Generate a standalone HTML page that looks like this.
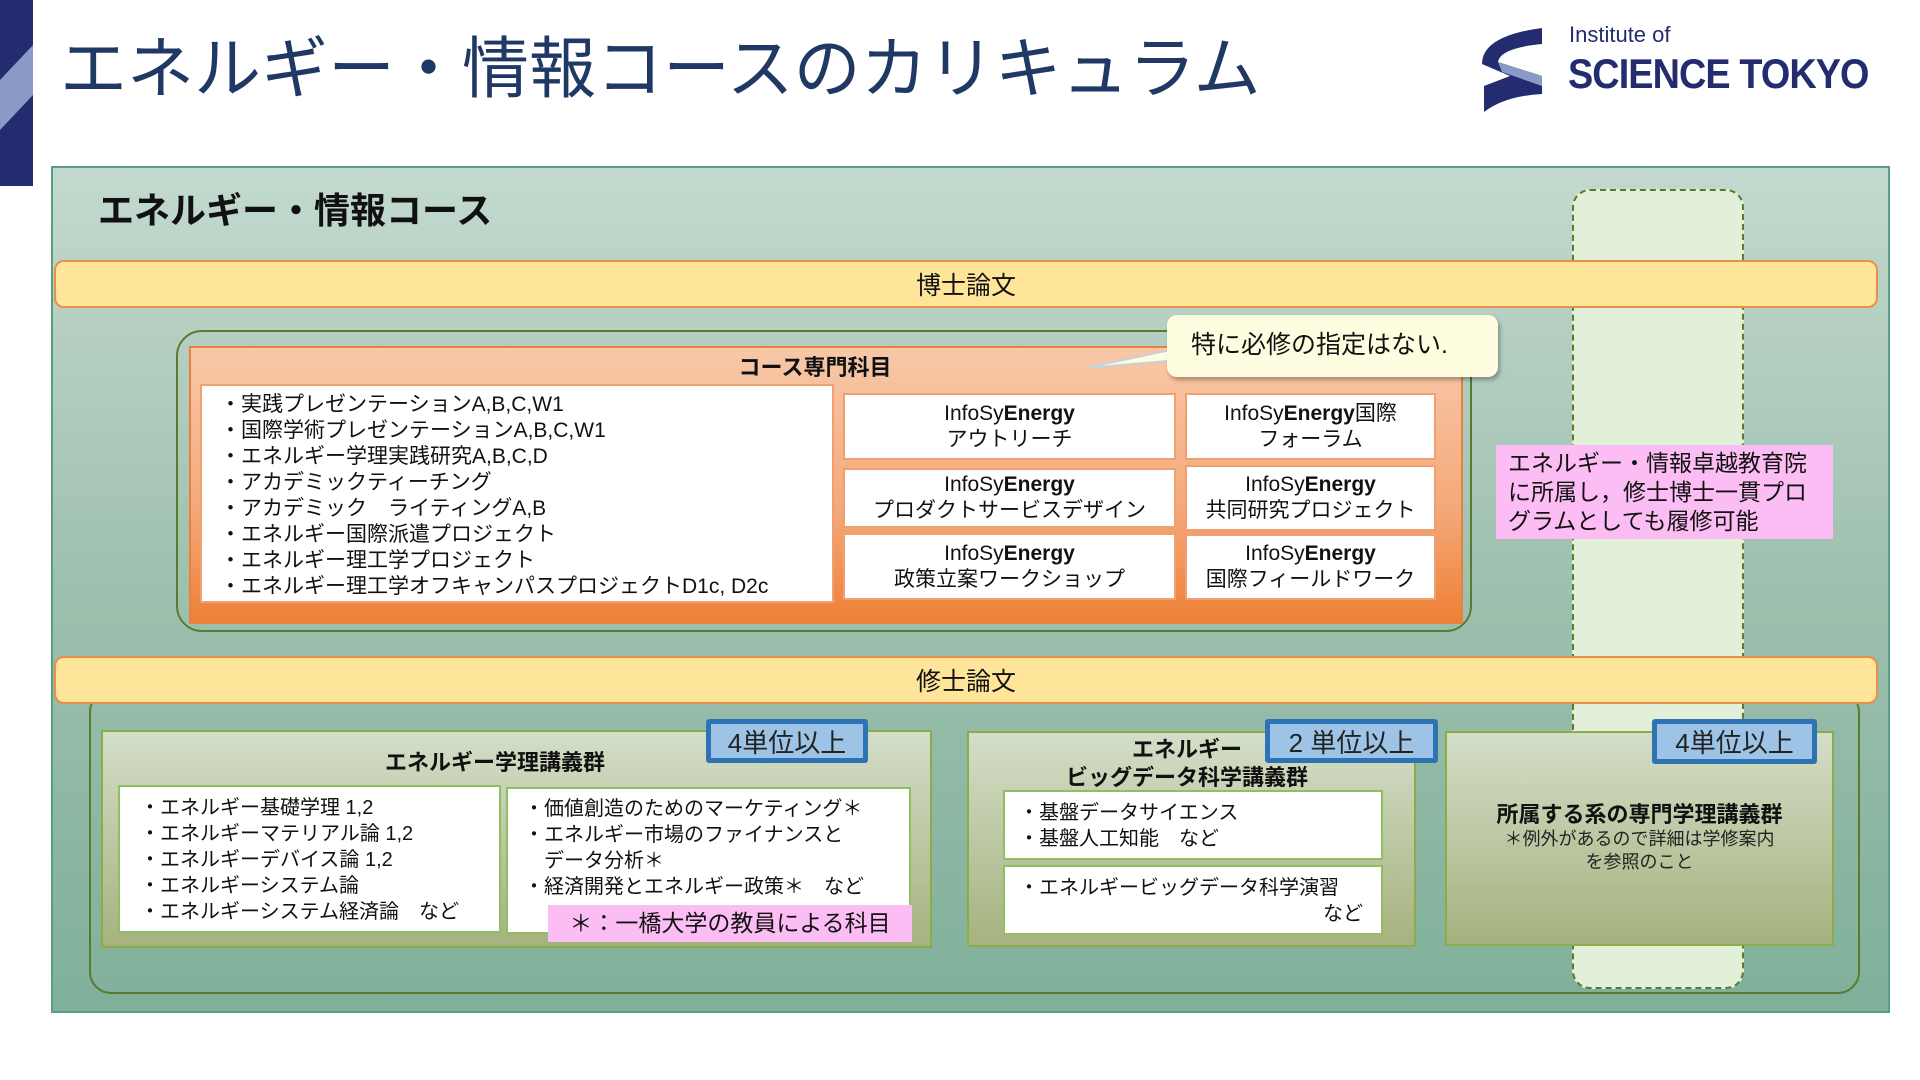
<!DOCTYPE html>
<html><head><meta charset="utf-8"><style>
*{margin:0;padding:0;box-sizing:border-box}
body{width:1920px;height:1080px;background:#fff;position:relative;overflow:hidden;font-family:"Liberation Sans","Noto Sans CJK JP",sans-serif;color:#111}
.a{position:absolute}
.c{display:flex;flex-direction:column;align-items:center;justify-content:center;text-align:center}
.bar{background:#fee59a;border:2px solid #e8904a;border-radius:10px;font-size:25px;display:flex;align-items:center;justify-content:center}
.wb{background:#fff;border:2px solid #f0a070;font-size:21px;line-height:26px}
.grp{background:linear-gradient(#d3dec8,#a6b27e);border:2px solid #8aad4a}
.gw{background:#fff;border:2px solid #8fbf60;font-size:20px;line-height:26px}
.badge{background:#9dc3e6;border:5px solid #2e74b5;border-radius:3px;font-size:26px;display:flex;align-items:center;justify-content:center;color:#222}
b{font-weight:bold}
</style></head><body>
<svg class="a" style="left:0;top:0" width="33" height="186"><rect width="33" height="186" fill="#222c6e"/><polygon points="0,80 33,45 33,95 0,130" fill="#8a9ac6"/></svg>
<div class="a" style="left:60px;top:30px;font-size:67px;color:#1f3864;line-height:80px;white-space:nowrap">エネルギー・情報コースのカリキュラム</div>
<svg class="a" style="left:1480px;top:26px" width="70" height="88"><path d="M62,2 L62,18 Q20,22 18,36 L62,50 L62,68 Q25,70 4,86 L4,60 Q30,50 30,50 L2,38 Q2,10 62,2Z" fill="#222c6e"/><path d="M18,36 L62,50 L62,60 L22,46Z" fill="#8a9ac6"/></svg>
<div class="a" style="left:1569px;top:22px;font-size:22px;color:#222c6e">Institute of</div>
<div class="a" style="left:1568px;top:50px;font-size:42px;font-weight:bold;color:#222c6e;letter-spacing:-1px;white-space:nowrap;transform:scaleX(0.9);transform-origin:left">SCIENCE TOKYO</div>
<div class="a" style="left:51px;top:166px;width:1839px;height:847px;background:linear-gradient(#c3d9cf,#9ec0ae 50%,#7fb09a);border:2px solid #5a9e80"></div>
<div class="a" style="left:1572px;top:189px;width:172px;height:800px;background:#e2efd9;border:2px dashed #5a7a30;border-radius:18px"></div>
<div class="a" style="left:98px;top:182px;font-size:36px;font-weight:bold;white-space:nowrap">エネルギー・情報コース</div>
<div class="a bar" style="left:54px;top:260px;width:1824px;height:48px">博士論文</div>
<div class="a" style="left:176px;top:330px;width:1296px;height:302px;border:2px solid #5a7a30;border-radius:26px"></div>
<div class="a" style="left:189px;top:346px;width:1274px;height:278px;background:linear-gradient(#f8c8a8,#f4a878 60%,#ee8036);border:2px solid #e88040"></div>
<div class="a" style="left:700px;top:350px;width:230px;text-align:center;font-size:22px;font-weight:bold">コース専門科目</div>
<div class="a wb" style="left:200px;top:384px;width:634px;height:219px;padding:6px 0 0 18px">・実践プレゼンテーションA,B,C,W1<br>・国際学術プレゼンテーションA,B,C,W1<br>・エネルギー学理実践研究A,B,C,D<br>・アカデミックティーチング<br>・アカデミック　ライティングA,B<br>・エネルギー国際派遣プロジェクト<br>・エネルギー理工学プロジェクト<br>・エネルギー理工学オフキャンパスプロジェクトD1c, D2c</div>
<div class="a wb c" style="left:843px;top:393px;width:333px;height:67px"><span>InfoSy<b>Energy</b></span><span>アウトリーチ</span></div>
<div class="a wb c" style="left:843px;top:468px;width:333px;height:60px"><span>InfoSy<b>Energy</b></span><span>プロダクトサービスデザイン</span></div>
<div class="a wb c" style="left:843px;top:533px;width:333px;height:67px"><span>InfoSy<b>Energy</b></span><span>政策立案ワークショップ</span></div>
<div class="a wb c" style="left:1185px;top:393px;width:251px;height:67px"><span>InfoSy<b>Energy</b>国際</span><span>フォーラム</span></div>
<div class="a wb c" style="left:1185px;top:465px;width:251px;height:66px"><span>InfoSy<b>Energy</b></span><span>共同研究プロジェクト</span></div>
<div class="a wb c" style="left:1185px;top:534px;width:251px;height:66px"><span>InfoSy<b>Energy</b></span><span>国際フィールドワーク</span></div>
<svg class="a" style="left:1080px;top:340px" width="120" height="40"><polygon points="5,28 100,8 100,20" fill="#fefde0" stroke="#c8d0d8" stroke-width="2"/></svg>
<div class="a" style="left:1167px;top:315px;width:331px;height:62px;background:#fefde0;border-radius:10px;box-shadow:2px 3px 4px rgba(0,0,0,.3);font-size:25px;padding:10px 0 0 24px">特に必修の指定はない.</div>
<div class="a" style="left:1496px;top:445px;width:337px;height:94px;background:#fbbdf3;font-size:23px;line-height:29px;padding:4px 0 0 12px">エネルギー・情報卓越教育院<br>に所属し，修士博士一貫プロ<br>グラムとしても履修可能</div>
<div class="a" style="left:89px;top:690px;width:1771px;height:304px;border:2px solid #5a7a30;border-radius:22px"></div>
<div class="a bar" style="left:54px;top:656px;width:1824px;height:48px">修士論文</div>
<div class="a grp" style="left:101px;top:730px;width:831px;height:218px"></div>
<div class="a" style="left:330px;top:745px;width:330px;text-align:center;font-size:22px;font-weight:bold">エネルギー学理講義群</div>
<div class="a badge" style="left:706px;top:719px;width:162px;height:44px">4単位以上</div>
<div class="a gw" style="left:118px;top:785px;width:383px;height:148px;padding:8px 0 0 20px">・エネルギー基礎学理 1,2<br>・エネルギーマテリアル論 1,2<br>・エネルギーデバイス論 1,2<br>・エネルギーシステム論<br>・エネルギーシステム経済論　など</div>
<div class="a gw" style="left:506px;top:787px;width:405px;height:147px;padding:7px 0 0 16px">・価値創造のためのマーケティング＊<br>・エネルギー市場のファイナンスと<br>　データ分析＊<br>・経済開発とエネルギー政策＊　など</div>
<div class="a" style="left:548px;top:905px;width:364px;height:37px;background:#fbbdf3;font-size:23px;text-align:center;line-height:37px">＊：一橋大学の教員による科目</div>
<div class="a grp" style="left:967px;top:731px;width:449px;height:216px"></div>
<div class="a" style="left:1030px;top:736px;width:314px;text-align:center;font-size:22px;font-weight:bold;line-height:28px">エネルギー　　　　　<br>ビッグデータ科学講義群</div>
<div class="a badge" style="left:1265px;top:719px;width:173px;height:44px">2 単位以上</div>
<div class="a gw" style="left:1003px;top:790px;width:380px;height:70px;padding:8px 0 0 14px">・基盤データサイエンス<br>・基盤人工知能　など</div>
<div class="a gw" style="left:1003px;top:865px;width:380px;height:70px;padding:8px 18px 0 14px">・エネルギービッグデータ科学演習<div style="text-align:right">など</div></div>
<div class="a grp" style="left:1445px;top:731px;width:389px;height:215px"></div>
<div class="a badge" style="left:1652px;top:719px;width:165px;height:45px">4単位以上</div>
<div class="a" style="left:1445px;top:797px;width:389px;text-align:center;font-size:22px;font-weight:bold">所属する系の専門学理講義群</div>
<div class="a" style="left:1445px;top:828px;width:389px;text-align:center;font-size:18px;line-height:23px;color:#222">＊例外があるので詳細は学修案内<br>を参照のこと</div>
</body></html>
